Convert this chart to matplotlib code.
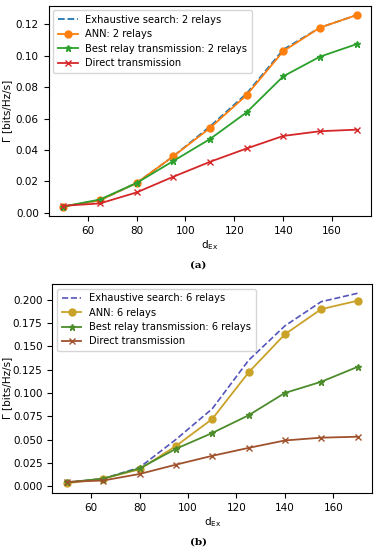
import matplotlib
matplotlib.use("Agg")
import matplotlib.pyplot as plt

# distance values
d_ex = [50, 65, 80, 95, 110, 125, 140, 155, 170]

# (a) 2 relays
exh_2 = [0.004, 0.008, 0.019, 0.036, 0.055, 0.076, 0.104, 0.118, 0.126]
ann_2 = [0.004, 0.008, 0.019, 0.036, 0.054, 0.075, 0.103, 0.118, 0.126]
best_2 = [0.004, 0.0085, 0.019, 0.033, 0.047, 0.064, 0.087, 0.0995, 0.1075]
direct = [0.0045, 0.006, 0.013, 0.023, 0.0325, 0.041, 0.049, 0.052, 0.053]

# (b) 6 relays
exh_6 = [0.004, 0.008, 0.020, 0.050, 0.083, 0.135, 0.172, 0.198, 0.207]
ann_6 = [0.003, 0.008, 0.018, 0.043, 0.072, 0.122, 0.163, 0.190, 0.199]
best_6 = [0.004, 0.008, 0.019, 0.040, 0.057, 0.076, 0.100, 0.112, 0.128]

plt.rcParams['font.size'] = 7.5

fig = plt.figure(figsize=(3.82, 5.5), dpi=100)
ax1 = fig.add_axes([0.127, 0.607, 0.845, 0.383])
ax2 = fig.add_axes([0.137, 0.104, 0.837, 0.38])

# top panel
ax1.plot(d_ex, exh_2, '--', color='#1f77b4', lw=1.3, label='Exhaustive search: 2 relays')
ax1.plot(d_ex, ann_2, '-o', color='#ff7f0e', lw=1.3, ms=5, label='ANN: 2 relays')
ax1.plot(d_ex, best_2, '-*', color='#2ca02c', lw=1.3, ms=5, label='Best relay transmission: 2 relays')
ax1.plot(d_ex, direct, '-x', color='#d62728', lw=1.3, ms=5, label='Direct transmission')
ax1.set_yticks([0.0, 0.02, 0.04, 0.06, 0.08, 0.10, 0.12])
ax1.set_xticks([60, 80, 100, 120, 140, 160])
ax1.set_ylabel('Γ [bits/Hz/s]')
ax1.yaxis.set_label_coords(-0.112, 0.5)
ax1.set_xlabel(r'd$_{\mathrm{Ex}}$', labelpad=2)
ax1.legend(loc='upper left', fontsize=7.1, handlelength=2.0, borderpad=0.45,
           labelspacing=0.45, borderaxespad=0.5)

# bottom panel
ax2.plot(d_ex, exh_6, '--', color='#5555bb', lw=1.2, label='Exhaustive search: 6 relays')
ax2.plot(d_ex, ann_6, '-o', color='#c9a227', lw=1.3, ms=5, label='ANN: 6 relays')
ax2.plot(d_ex, best_6, '-*', color='#4c8c2b', lw=1.3, ms=4.5, label='Best relay transmission: 6 relays')
ax2.plot(d_ex, direct, '-x', color='#a0522d', lw=1.3, ms=5, label='Direct transmission')
ax2.set_yticks([0.0, 0.025, 0.05, 0.075, 0.1, 0.125, 0.15, 0.175, 0.2])
ax2.set_xticks([60, 80, 100, 120, 140, 160])
ax2.set_ylabel('Γ [bits/Hz/s]')
ax2.yaxis.set_label_coords(-0.125, 0.5)
ax2.set_xlabel(r'd$_{\mathrm{Ex}}$', labelpad=2)
ax2.legend(loc='upper left', fontsize=7.1, handlelength=2.0, borderpad=0.45,
           labelspacing=0.45, borderaxespad=0.5)

fig.text(0.52, 0.518, '(a)', ha='center', va='center', family='serif', fontsize=7.5, weight='bold')
fig.text(0.52, 0.015, '(b)', ha='center', va='center', family='serif', fontsize=7.5, weight='bold')

fig.savefig('out.png', dpi=100)
